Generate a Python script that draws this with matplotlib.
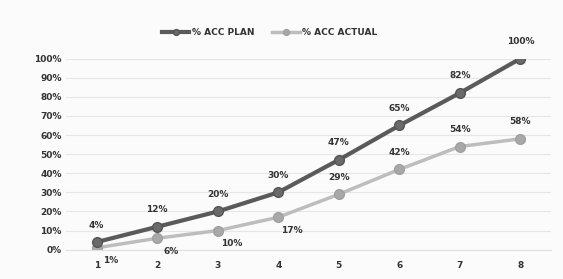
import matplotlib
matplotlib.use("Agg")
import matplotlib.pyplot as plt
from matplotlib.ticker import PercentFormatter

categories = [1, 2, 3, 4, 5, 6, 7, 8]
plan = [4, 12, 20, 30, 47, 65, 82, 100]
actual = [1, 6, 10, 17, 29, 42, 54, 58]
plan_labels = ["4%", "12%", "20%", "30%", "47%", "65%", "82%", "100%"]
actual_labels = ["1%", "6%", "10%", "17%", "29%", "42%", "54%", "58%"]
actual_below = [True, True, True, True, False, False, False, False]

fig = plt.figure(figsize=(5.63, 2.79), dpi=100)
fig.patch.set_facecolor("#fbfbfb")
ax = fig.add_axes([0.118, 0.105, 0.86, 0.685])
ax.set_facecolor("#fbfbfb")

x = list(range(len(categories)))
ax.plot(x, plan, color="#5a5a5a", lw=3, marker="o", ms=7,
        mfc="#6a6a6a", mec="#555555", label="% ACC PLAN", zorder=3)
ax.plot(x, actual, color="#bdbdbd", lw=2.5, marker="o", ms=7,
        mfc="#a8a8a8", mec="#a0a0a0", label="% ACC ACTUAL", zorder=2)

for xi, v, lab in zip(x, plan, plan_labels):
    ax.annotate(lab, (xi, v), xytext=(0, 9), textcoords="offset points",
                ha="center", va="bottom", fontsize=6.5, fontweight="bold", color="#333333")
for xi, v, lab, below in zip(x, actual, actual_labels, actual_below):
    if below:
        ax.annotate(lab, (xi, v), xytext=(10, -6), textcoords="offset points",
                    ha="center", va="top", fontsize=6.5, fontweight="bold", color="#333333")
    else:
        ax.annotate(lab, (xi, v), xytext=(0, 9), textcoords="offset points",
                    ha="center", va="bottom", fontsize=6.5, fontweight="bold", color="#333333")

ax.set_xlim(-0.5, len(categories) - 0.5)
ax.set_ylim(0, 100)
ax.set_yticks(range(0, 101, 10))
ax.yaxis.set_major_formatter(PercentFormatter(decimals=0))
ax.set_xticks(x)
ax.set_xticklabels([str(c) for c in categories])
ax.tick_params(axis="both", length=0, labelsize=6.5, colors="#333333")
for lbl in ax.get_xticklabels() + ax.get_yticklabels():
    lbl.set_fontweight("bold")
ax.tick_params(axis="x", pad=8)
ax.grid(axis="y", color="#e6e6e6", lw=0.8)
ax.set_axisbelow(True)
for s in ax.spines.values():
    s.set_visible(False)
ax.spines["bottom"].set_visible(True)
ax.spines["bottom"].set_color("#e0e0e0")

leg = ax.legend(loc="lower center", bbox_to_anchor=(0.42, 1.07), ncol=2, frameon=False,
                fontsize=6.5, handlelength=3, columnspacing=2, handletextpad=0.3,
                markerscale=0.6)
for t in leg.get_texts():
    t.set_fontweight("bold")
    t.set_color("#333333")

fig.savefig("out.png", dpi=100, facecolor=fig.get_facecolor())
